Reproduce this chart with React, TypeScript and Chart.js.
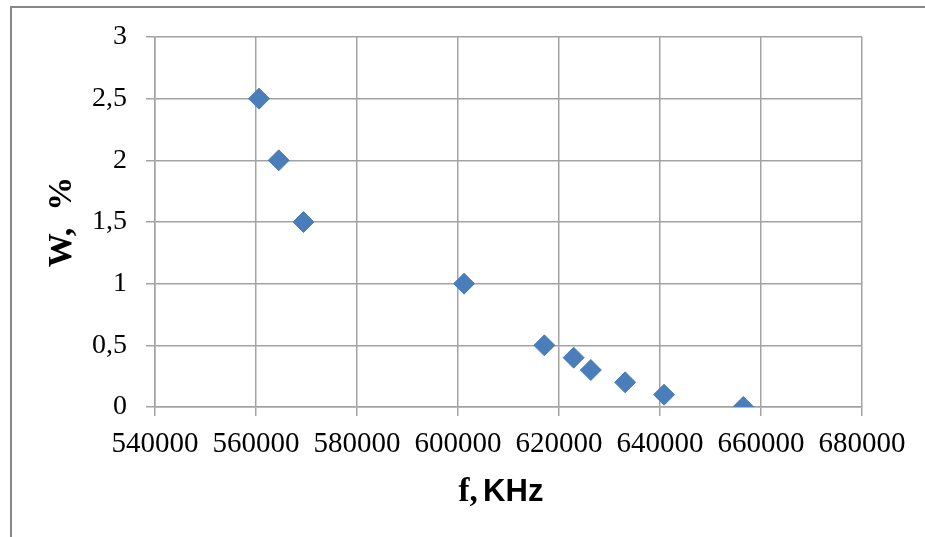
import React, { useEffect, useRef } from "react";
import { Chart, registerables } from "chart.js";

Chart.register(...registerables);

const fValues = [560600, 564500, 569400, 601200, 617100, 622900, 626300, 633100, 640800, 656500];
const wValues = [2.5, 2, 1.5, 1, 0.5, 0.4, 0.3, 0.2, 0.1, 0];
const xMin = 540000;
const xMax = 680000;
const xStep = 20000;
const yMin = 0;
const yMax = 3;
const yStep = 0.5;
const yTitle = "W,  %";
const xTitleSerif = "f, ";
const xTitleSans = "KHz";

const GRID = "#a3a3a3";
const MARK = "#4a7ebb";

const xTitlePlugin = {
  id: "xTitleMixed",
  afterDraw(chart: any) {
    const ctx = chart.ctx as CanvasRenderingContext2D;
    ctx.save();
    ctx.fillStyle = "#000";
    ctx.textBaseline = "alphabetic";
    ctx.textAlign = "left";
    const serifFont = "bold 33px 'Liberation Serif', 'Times New Roman', serif";
    const sansFont = "bold 31px 'Liberation Sans', Arial, sans-serif";
    ctx.font = serifFont;
    const w1 = ctx.measureText(xTitleSerif).width;
    ctx.font = sansFont;
    const w2 = ctx.measureText(xTitleSans).width;
    const cx = 501;
    const baseY = 501;
    const start = cx - (w1 + w2 - 3) / 2;
    ctx.font = serifFont;
    ctx.fillText(xTitleSerif, start, baseY);
    ctx.font = sansFont;
    ctx.fillText(xTitleSans, start + w1 - 3, baseY);
    ctx.restore();
  },
};

export default function App() {
  const canvasRef = useRef<HTMLCanvasElement | null>(null);

  useEffect(() => {
    if (!canvasRef.current) return;
    const chart = new Chart(canvasRef.current, {
      type: "scatter",
      data: {
        datasets: [
          {
            data: fValues.map((f, i) => ({ x: f, y: wValues[i] })),
            pointStyle: "rectRot",
            pointRadius: 10.5,
            pointHoverRadius: 10.5,
            backgroundColor: MARK,
            borderColor: MARK,
            borderWidth: 1,
            showLine: false,
          },
        ],
      },
      options: {
        responsive: false,
        animation: false,
        layout: { padding: { left: 0, right: 63, top: 37, bottom: 0 } },
        plugins: {
          legend: { display: false },
          tooltip: { enabled: false },
        },
        scales: {
          x: {
            type: "linear",
            min: xMin,
            max: xMax,
            afterFit: (s: any) => {
              s.height = 130;
            },
            ticks: {
              stepSize: xStep,
              padding: 11,
              color: "#000",
              maxRotation: 0,
              autoSkip: false,
              font: { family: "'Liberation Serif', 'Times New Roman', serif", size: 29 },
              callback: (v: any) => String(v),
            },
            grid: { color: GRID, lineWidth: 1.5, tickLength: 9, drawTicks: true },
            border: { color: GRID, width: 1.5 },
          },
          y: {
            type: "linear",
            min: yMin,
            max: yMax,
            afterFit: (s: any) => {
              s.width = 155;
            },
            ticks: {
              stepSize: yStep,
              padding: 19,
              color: "#000",
              font: { family: "'Liberation Serif', 'Times New Roman', serif", size: 28 },
              callback: (v: any) => String(v).replace(".", ","),
            },
            title: {
              display: true,
              text: yTitle,
              color: "#000",
              padding: { top: 42, bottom: 0 },
              font: { family: "'Liberation Serif', 'Times New Roman', serif", size: 34, weight: "bold" },
            },
            grid: { color: GRID, lineWidth: 1.5, tickLength: 9, drawTicks: true },
            border: { color: GRID, width: 1.5 },
          },
        },
      },
      plugins: [xTitlePlugin],
    });
    return () => chart.destroy();
  }, []);

  return (
    <div style={{ position: "fixed", left: 0, top: 0, width: 925, height: 537, background: "#fff", overflow: "hidden" }}>
      <div
        style={{
          position: "absolute",
          left: 10,
          top: 6,
          width: 940,
          height: 560,
          borderTop: "2px solid #878787",
          borderLeft: "2px solid #878787",
          boxSizing: "border-box",
        }}
      />
      <canvas
        ref={canvasRef}
        width={925}
        height={537}
        style={{ position: "absolute", left: 0, top: 0, width: 925, height: 537 }}
      />
    </div>
  );
}
